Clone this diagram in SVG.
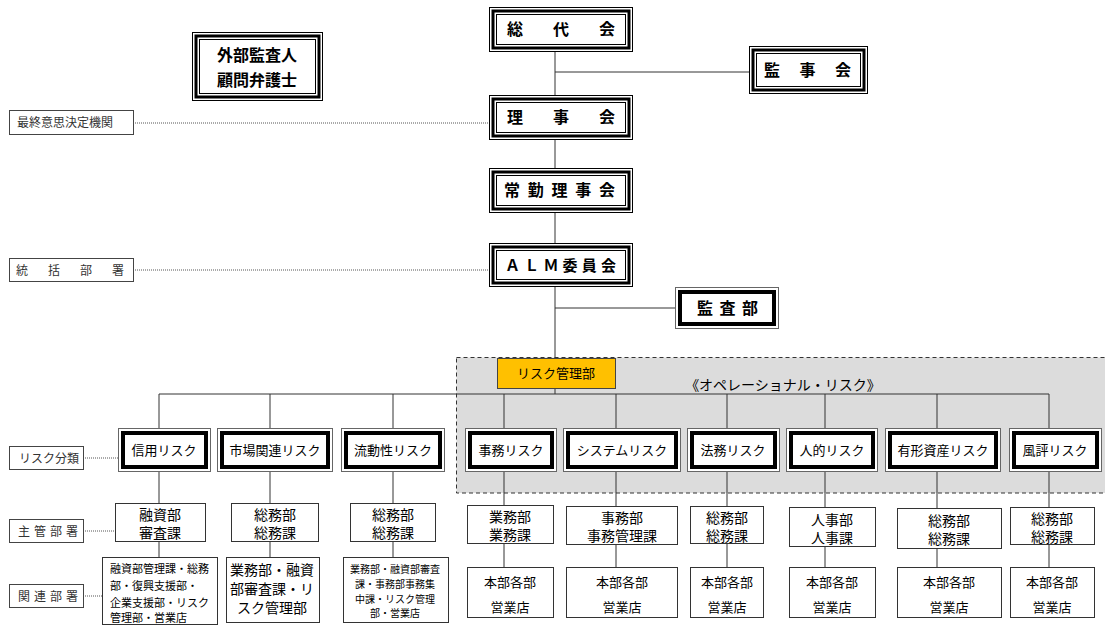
<svg xmlns="http://www.w3.org/2000/svg" width="1105" height="625" viewBox="0 0 1105 625">
<style>
text { font-family: "Liberation Sans","Noto Sans CJK JP",sans-serif; fill:#000; }
.cn { stroke:#333; stroke-width:1; fill:none; }
.dot { stroke:#555; stroke-width:1; stroke-dasharray:1 1; fill:none; }
.o1 { fill:#fff; stroke:#000; stroke-width:1; }
.o2 { fill:none; stroke:#000; stroke-width:3; }
.o3 { fill:none; stroke:#000; stroke-width:1; }
.r1 { fill:#fff; stroke:#666; stroke-width:1; }
.r2 { fill:#fff; stroke:#000; stroke-width:4; }
.bx { fill:#fff; stroke:#333; stroke-width:1; }
.lab { fill:#fff; stroke:#444; stroke-width:1; }
.tb { font-weight:bold; font-size:16px; }
.tr { font-size:13px; text-anchor:middle; }
.tm { font-size:14px; text-anchor:middle; }
.tl { font-size:12px; fill:#333; }
</style>

<rect x="456.5" y="357.5" width="700" height="135.5" fill="#DCDCDC" stroke="#333" stroke-width="1" stroke-dasharray="4 3"/>

<g id="connectors">
<path class="cn" d="M555 51V95 M555 72H749 M555 139V168 M555 212V243 M555 286V394 M555 308H676 M159 394H1049"/>
<path class="cn" d="M159 394V428 M270 394V428 M393 394V428 M504 394V428 M616 394V428 M727 394V428 M825 394V428 M937 394V428 M1049 394V428"/>
<path class="cn" d="M159 472V503 M270 472V503 M393 472V503 M504 472V505 M616 472V506 M727 472V506 M825 472V507 M937 472V508 M1049 472V507"/>
<path class="cn" d="M159 542V557 M270 542V557 M393 542V557 M504 544V567 M616 545V567 M727 543V567 M825 547V567 M937 549V567 M1049 544V567"/>
<path class="dot" d="M133 123H489 M133 270H489 M83 458H118 M83 531H115 M83 596H102"/>
</g>

<g id="gaibu">
<rect class="o1" x="192.5" y="32.5" width="130" height="68"/>
<rect class="o2" x="196" y="36" width="123" height="61"/>
<rect class="o3" x="199.5" y="39.5" width="116" height="54"/>
<text class="tb" x="257" y="61" text-anchor="middle">外部監査人</text>
<text class="tb" x="257" y="86" text-anchor="middle">顧問弁護士</text>
</g>

<g id="soudaikai">
<rect class="o1" x="489.5" y="7.5" width="143" height="44"/>
<rect class="o2" x="493" y="11" width="136" height="37"/>
<rect class="o3" x="496.5" y="14.5" width="129" height="30"/>
<text class="tb" x="507" y="35" textLength="108" lengthAdjust="spacing">総代会</text>
</g>

<g id="kanjikai">
<rect class="o1" x="749.5" y="46.5" width="118" height="47"/>
<rect class="o2" x="753" y="50" width="111" height="40"/>
<rect class="o3" x="756.5" y="53.5" width="104" height="33"/>
<text class="tb" x="764" y="76" textLength="87" lengthAdjust="spacing">監事会</text>
</g>

<g id="rijikai">
<rect class="o1" x="489.5" y="95.5" width="143" height="44"/>
<rect class="o2" x="493" y="99" width="136" height="37"/>
<rect class="o3" x="496.5" y="102.5" width="129" height="30"/>
<text class="tb" x="507" y="123" textLength="108" lengthAdjust="spacing">理事会</text>
</g>

<g id="joukin">
<rect class="o1" x="489.5" y="168.5" width="143" height="44"/>
<rect class="o2" x="493" y="172" width="136" height="37"/>
<rect class="o3" x="496.5" y="175.5" width="129" height="30"/>
<text class="tb" x="504" y="196" textLength="111" lengthAdjust="spacing">常勤理事会</text>
</g>

<g id="alm">
<rect class="o1" x="489.5" y="243.5" width="143" height="43"/>
<rect class="o2" x="493" y="247" width="136" height="36"/>
<rect class="o3" x="496.5" y="250.5" width="129" height="29"/>
<text class="tb" x="505" y="271" textLength="111" lengthAdjust="spacing" style="font-size:15px">ＡＬＭ委員会</text>
</g>

<g id="kansabu">
<rect class="r1" x="675.5" y="287.5" width="103" height="41"/>
<rect class="r2" x="680" y="292" width="94" height="32"/>
<text class="tb" x="697" y="314" textLength="61" lengthAdjust="spacing">監査部</text>
</g>

<g id="lbl-saishu">
<rect class="lab" x="9.5" y="110.5" width="124" height="24"/>
<text class="tl" x="17" y="127">最終意思決定機関</text>
</g>
<g id="lbl-toukatsu">
<rect class="lab" x="9.5" y="258.5" width="124" height="23"/>
<text class="tl" x="16" y="275" textLength="108" lengthAdjust="spacing">統括部署</text>
</g>
<g id="lbl-bunrui">
<rect class="lab" x="9.5" y="446.5" width="74" height="23"/>
<text class="tl" x="19" y="463">リスク分類</text>
</g>
<g id="lbl-shukan">
<rect class="lab" x="9.5" y="519.5" width="74" height="23"/>
<text class="tl" x="18" y="536" textLength="60" lengthAdjust="spacing">主管部署</text>
</g>
<g id="lbl-kanren">
<rect class="lab" x="9.5" y="584.5" width="74" height="23"/>
<text class="tl" x="18" y="601" textLength="60" lengthAdjust="spacing">関連部署</text>
</g>

<g id="riskkanri">
<rect x="497.5" y="358.5" width="118" height="30" fill="#FFC000" stroke="#444" stroke-width="1"/>
<text class="tr" x="556" y="378">リスク管理部</text>
</g>
<text x="783" y="390" font-size="14" text-anchor="middle">《オペレーショナル・リスク》</text>

<g id="r-shinyou">
<rect class="r1" x="118.5" y="428.5" width="92" height="43"/>
<rect class="r2" x="123" y="433" width="83" height="34"/>
<text class="tr" x="164" y="455">信用リスク</text>
</g>
<g id="r-shijou">
<rect class="r1" x="217.5" y="428.5" width="115" height="43"/>
<rect class="r2" x="222" y="433" width="106" height="34"/>
<text class="tr" x="275" y="455">市場関連リスク</text>
</g>
<g id="r-ryudo">
<rect class="r1" x="341.5" y="428.5" width="103" height="43"/>
<rect class="r2" x="346" y="433" width="94" height="34"/>
<text class="tr" x="393" y="455">流動性リスク</text>
</g>
<g id="r-jimu">
<rect class="r1" x="465.5" y="428.5" width="91" height="43"/>
<rect class="r2" x="470" y="433" width="82" height="34"/>
<text class="tr" x="511" y="455">事務リスク</text>
</g>
<g id="r-system">
<rect class="r1" x="563.5" y="428.5" width="117" height="43"/>
<rect class="r2" x="568" y="433" width="108" height="34"/>
<text class="tr" x="622" y="455">システムリスク</text>
</g>
<g id="r-houmu">
<rect class="r1" x="687.5" y="428.5" width="92" height="43"/>
<rect class="r2" x="692" y="433" width="83" height="34"/>
<text class="tr" x="733" y="455">法務リスク</text>
</g>
<g id="r-jinteki">
<rect class="r1" x="786.5" y="428.5" width="91" height="43"/>
<rect class="r2" x="791" y="433" width="82" height="34"/>
<text class="tr" x="832" y="455">人的リスク</text>
</g>
<g id="r-yukei">
<rect class="r1" x="885.5" y="428.5" width="115" height="43"/>
<rect class="r2" x="890" y="433" width="106" height="34"/>
<text class="tr" x="943" y="455">有形資産リスク</text>
</g>
<g id="r-fuhyo">
<rect class="r1" x="1009.5" y="428.5" width="92" height="43"/>
<rect class="r2" x="1014" y="433" width="83" height="34"/>
<text class="tr" x="1055" y="455">風評リスク</text>
</g>

<g id="s-shinyou">
<rect class="bx" x="115.5" y="503.5" width="90" height="38"/>
<text class="tm" x="160" y="520">融資部</text>
<text class="tm" x="160" y="538">審査課</text>
</g>
<g id="s-shijou">
<rect class="bx" x="231.5" y="503.5" width="87" height="38"/>
<text class="tm" x="275" y="520">総務部</text>
<text class="tm" x="275" y="538">総務課</text>
</g>
<g id="s-ryudo">
<rect class="bx" x="350.5" y="503.5" width="85" height="38"/>
<text class="tm" x="393" y="520">総務部</text>
<text class="tm" x="393" y="538">総務課</text>
</g>
<g id="s-jimu">
<rect class="bx" x="467.5" y="505.5" width="86" height="38"/>
<text class="tm" x="510" y="522">業務部</text>
<text class="tm" x="510" y="540">業務課</text>
</g>
<g id="s-system">
<rect class="bx" x="566.5" y="506.5" width="111" height="38"/>
<text class="tm" x="622" y="523">事務部</text>
<text class="tm" x="622" y="541">事務管理課</text>
</g>
<g id="s-houmu">
<rect class="bx" x="690.5" y="506.5" width="73" height="37"/>
<text class="tm" x="727" y="523">総務部</text>
<text class="tm" x="727" y="541">総務課</text>
</g>
<g id="s-jinteki">
<rect class="bx" x="789.5" y="507.5" width="86" height="39"/>
<text class="tm" x="832" y="525">人事部</text>
<text class="tm" x="832" y="543">人事課</text>
</g>
<g id="s-yukei">
<rect class="bx" x="897.5" y="508.5" width="104" height="40"/>
<text class="tm" x="949" y="526">総務部</text>
<text class="tm" x="949" y="544">総務課</text>
</g>
<g id="s-fuhyo">
<rect class="bx" x="1010.5" y="507.5" width="84" height="37"/>
<text class="tm" x="1052" y="524">総務部</text>
<text class="tm" x="1052" y="542">総務課</text>
</g>

<g id="k-shinyou">
<rect class="bx" x="102.5" y="557.5" width="115" height="67"/>
<text x="110" y="573" font-size="11">融資部管理課・総務</text>
<text x="110" y="590" font-size="11">部・復興支援部・</text>
<text x="110" y="607" font-size="11">企業支援部・リスク</text>
<text x="110" y="622" font-size="11">管理部・営業店</text>
</g>
<g id="k-shijou">
<rect class="bx" x="226.5" y="557.5" width="93" height="65"/>
<text class="tm" x="272" y="575">業務部・融資</text>
<text class="tm" x="272" y="594">部審査課・リ</text>
<text class="tm" x="272" y="613">スク管理部</text>
</g>
<g id="k-ryudo">
<rect class="bx" x="343.5" y="557.5" width="105" height="65"/>
<text x="395" y="573" font-size="10" text-anchor="middle">業務部・融資部審査</text>
<text x="395" y="588" font-size="10" text-anchor="middle">課・事務部事務集</text>
<text x="395" y="603" font-size="10" text-anchor="middle">中課・リスク管理</text>
<text x="395" y="617" font-size="10" text-anchor="middle">部・営業店</text>
</g>
<g id="k-jimu">
<rect class="bx" x="467.5" y="567.5" width="86" height="50"/>
<text class="tr" x="510" y="587">本部各部</text>
<text class="tr" x="510" y="612">営業店</text>
</g>
<g id="k-system">
<rect class="bx" x="566.5" y="567.5" width="111" height="50"/>
<text class="tr" x="622" y="587">本部各部</text>
<text class="tr" x="622" y="612">営業店</text>
</g>
<g id="k-houmu">
<rect class="bx" x="690.5" y="567.5" width="73" height="50"/>
<text class="tr" x="727" y="587">本部各部</text>
<text class="tr" x="727" y="612">営業店</text>
</g>
<g id="k-jinteki">
<rect class="bx" x="789.5" y="567.5" width="86" height="50"/>
<text class="tr" x="832" y="587">本部各部</text>
<text class="tr" x="832" y="612">営業店</text>
</g>
<g id="k-yukei">
<rect class="bx" x="897.5" y="567.5" width="104" height="50"/>
<text class="tr" x="949" y="587">本部各部</text>
<text class="tr" x="949" y="612">営業店</text>
</g>
<g id="k-fuhyo">
<rect class="bx" x="1010.5" y="567.5" width="84" height="50"/>
<text class="tr" x="1052" y="587">本部各部</text>
<text class="tr" x="1052" y="612">営業店</text>
</g>
</svg>
